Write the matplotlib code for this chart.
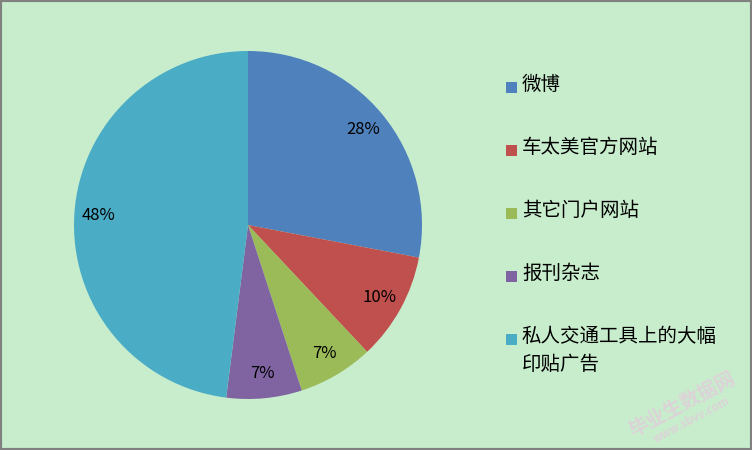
import matplotlib.pyplot as plt
from matplotlib.patches import Rectangle

plt.rcParams['font.family'] = ['Noto Sans CJK SC', 'DejaVu Sans']

# 数据
labels = ['微博', '车太美官方网站', '其它门户网站', '报刊杂志', '私人交通工具上的大幅\n印贴广告']
values = [28, 10, 7, 7, 48]
colors = ['#4F81BD', '#C0504D', '#9BBB59', '#8064A2', '#4BACC6']

bg = '#C8EDCC'
W, H = 752, 450
fig = plt.figure(figsize=(W / 100, H / 100), dpi=100, facecolor=bg)

# 饼图区域 (中心约 248,225, 半径约 174 px)
r = 174
ax = fig.add_axes([(248 - r) / W, 1 - (225 + r) / H, 2 * r / W, 2 * r / H])
ax.set_facecolor(bg)
wedges, texts, autotexts = ax.pie(values, colors=colors, startangle=90, counterclock=False,
                                  autopct='%1.0f%%', pctdistance=0.86, radius=1.0,
                                  wedgeprops=dict(linewidth=0))
for t in autotexts:
    t.set_fontsize(12)
    t.set_color('black')
ax.set_xlim(-1, 1)
ax.set_ylim(-1, 1)
ax.set_aspect('equal')
ax.axis('off')

# 图例 (手动)
rows_y = [84, 147, 210, 273, 336]
for i, lab in enumerate(labels):
    y = rows_y[i]
    fig.patches.append(Rectangle((506 / W, 1 - (y + 9) / H), 11 / W, 11 / H,
                                 transform=fig.transFigure, facecolor=colors[i],
                                 edgecolor='none'))
    fig.text(522 / W, 1 - (y - 10) / H, lab, fontsize=14, va='top', ha='left',
             linespacing=1.45)

# 水印
fig.text(682 / W, 1 - 405 / H, '毕业生数据网', fontsize=14, color='#DCD3D8',
         rotation=28, ha='center', va='center', fontweight='bold')
fig.text(692 / W, 1 - 420 / H, 'www.sbvv.com', fontsize=8, color='#DCD3D8',
         rotation=28, ha='center', va='center', fontweight='bold')

# 边框
fig.patches.append(Rectangle((0, 0), 1, 1, transform=fig.transFigure, fill=False,
                             edgecolor='#808080', linewidth=3))

fig.savefig('out.png', dpi=100, facecolor=bg)
